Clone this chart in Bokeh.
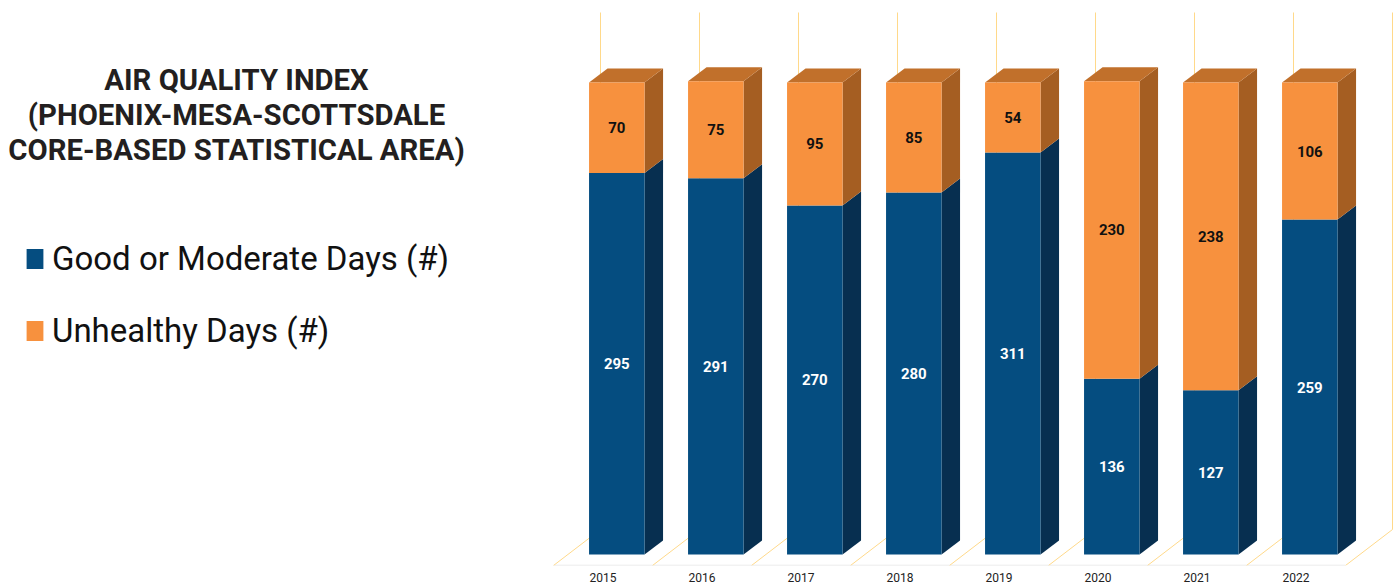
from bokeh.plotting import figure
from bokeh.models import Range1d, Label, Legend, LegendItem, FixedTicker
from bokeh.core.properties import value
from bokeh.embed import file_html
from bokeh.resources import INLINE

years = ["2015", "2016", "2017", "2018", "2019", "2020", "2021", "2022"]
good_days = [295, 291, 270, 280, 311, 136, 127, 259]
unhealthy_days = [70, 75, 95, 85, 54, 230, 238, 106]
title_lines = ["AIR QUALITY INDEX", "(PHOENIX-MESA-SCOTTSDALE", "CORE-BASED STATISTICAL AREA)"]
series_names = ["Good or Moderate Days (#)", "Unhealthy Days (#)"]

BLUE, BLUE_SIDE = "#054d80", "#072f50"
ORANGE, ORANGE_SIDE, ORANGE_TOP = "#f7913e", "#a55e22", "#c1702b"
GRID = "#ffd98a"
FONT = value("Roboto")

W, H = 1396, 585
FH = 565
PX_X, PX_Y = 99.0, 1.293
x0 = -602.5 / PX_X
y0 = -11 / PX_Y
p = figure(width=W, height=H, frame_height=FH, output_backend="svg", toolbar_location=None,
           x_range=Range1d(x0, x0 + W / PX_X), y_range=Range1d(y0, y0 + FH / PX_Y),
           min_border=0, min_border_bottom=H - FH, min_border_left=0, min_border_right=0, min_border_top=0,
           outline_line_color=None)
p.grid.visible = False
p.yaxis.visible = False

xa = p.xaxis[0]
xa.ticker = FixedTicker(ticks=list(range(len(years))))
xa.major_label_overrides = {i: y for i, y in enumerate(years)}
xa.axis_line_color = None
xa.major_tick_line_color = None
xa.minor_tick_line_color = None
xa.major_tick_out = 0
xa.major_tick_in = 0
xa.minor_tick_out = 0
xa.minor_tick_in = 0
xa.major_label_standoff = 7
xa.major_label_text_font = "Roboto"
xa.major_label_text_font_size = "12px"
xa.major_label_text_color = "#222222"

BAR_W = 55.5 / PX_X
OFF = 13.8 / PX_X
DX, DY = 18.5 / PX_X, 14 / PX_Y
n = len(years)
xs = [i + OFF for i in range(n)]
totals = [g + u for g, u in zip(good_days, unhealthy_days)]

gx = 47 / PX_X
gy = 36 / PX_Y
ybase = y0
ytop = 542 / PX_Y
p.segment([-0.5], [ybase], [n - 0.5], [ybase], line_color="#e6e6e6", line_width=1.5)
for i in range(n + 1):
    p.line([i - 0.5, i - 0.5 + gx], [ybase, ybase + gy], line_color=GRID, line_width=1)
    p.line([i - 0.5 + gx, i - 0.5 + gx], [ybase + gy, ytop], line_color=GRID, line_width=1)

def side(x, b, t):
    r = x + BAR_W / 2
    return [r, r + DX, r + DX, r], [b, b + DY, t + DY, t]

def top(x, t):
    l, r = x - BAR_W / 2, x + BAR_W / 2
    return [l, l + DX, r + DX, r], [t, t + DY, t + DY, t]

bs = [side(x, 0, g) for x, g in zip(xs, good_days)]
os_ = [side(x, g, t) for x, g, t in zip(xs, good_days, totals)]
ts = [top(x, t) for x, t in zip(xs, totals)]
p.patches([a[0] for a in bs], [a[1] for a in bs], fill_color=BLUE_SIDE, line_color=None)
p.patches([a[0] for a in os_], [a[1] for a in os_], fill_color=ORANGE_SIDE, line_color=None)
p.patches([a[0] for a in ts], [a[1] for a in ts], fill_color=ORANGE_TOP, line_color=None)

r_good = p.vbar(x=xs, width=BAR_W, bottom=0, top=good_days, fill_color=BLUE, line_color=None)
r_bad = p.vbar(x=xs, width=BAR_W, bottom=good_days, top=totals, fill_color=ORANGE, line_color=None)

p.text(x=xs, y=[g / 2 for g in good_days], text=[str(v) for v in good_days], text_color="#ffffff",
       text_font=FONT, text_font_style="bold", text_font_size="15px", text_align="center", text_baseline="middle")
p.text(x=xs, y=[g + u / 2 for g, u in zip(good_days, unhealthy_days)], text=[str(v) for v in unhealthy_days],
       text_color="#111111", text_font=FONT, text_font_style="bold", text_font_size="15px",
       text_align="center", text_baseline="middle")

for line, py in zip(title_lines, [79.3, 114.3, 149.3]):
    p.add_layout(Label(x=236, y=FH - py, x_units="screen", y_units="screen", text=line,
                       text_font="Roboto", text_font_style="bold", text_font_size="29.3px", text_color="#231f20",
                       text_align="center", text_baseline="middle"))

legend = Legend(items=[LegendItem(label=series_names[0], renderers=[r_good]),
                       LegendItem(label=series_names[1], renderers=[r_bad])],
                location=(24, FH - 350), orientation="vertical", padding=0, margin=0,
                border_line_color=None, background_fill_color=None,
                glyph_width=21, glyph_height=25, label_standoff=7, spacing=33,
                label_text_font="Roboto", label_text_font_size="33px", label_text_color="#111111")
p.add_layout(legend)

open("out.html", "w").write(file_html(p, INLINE))
